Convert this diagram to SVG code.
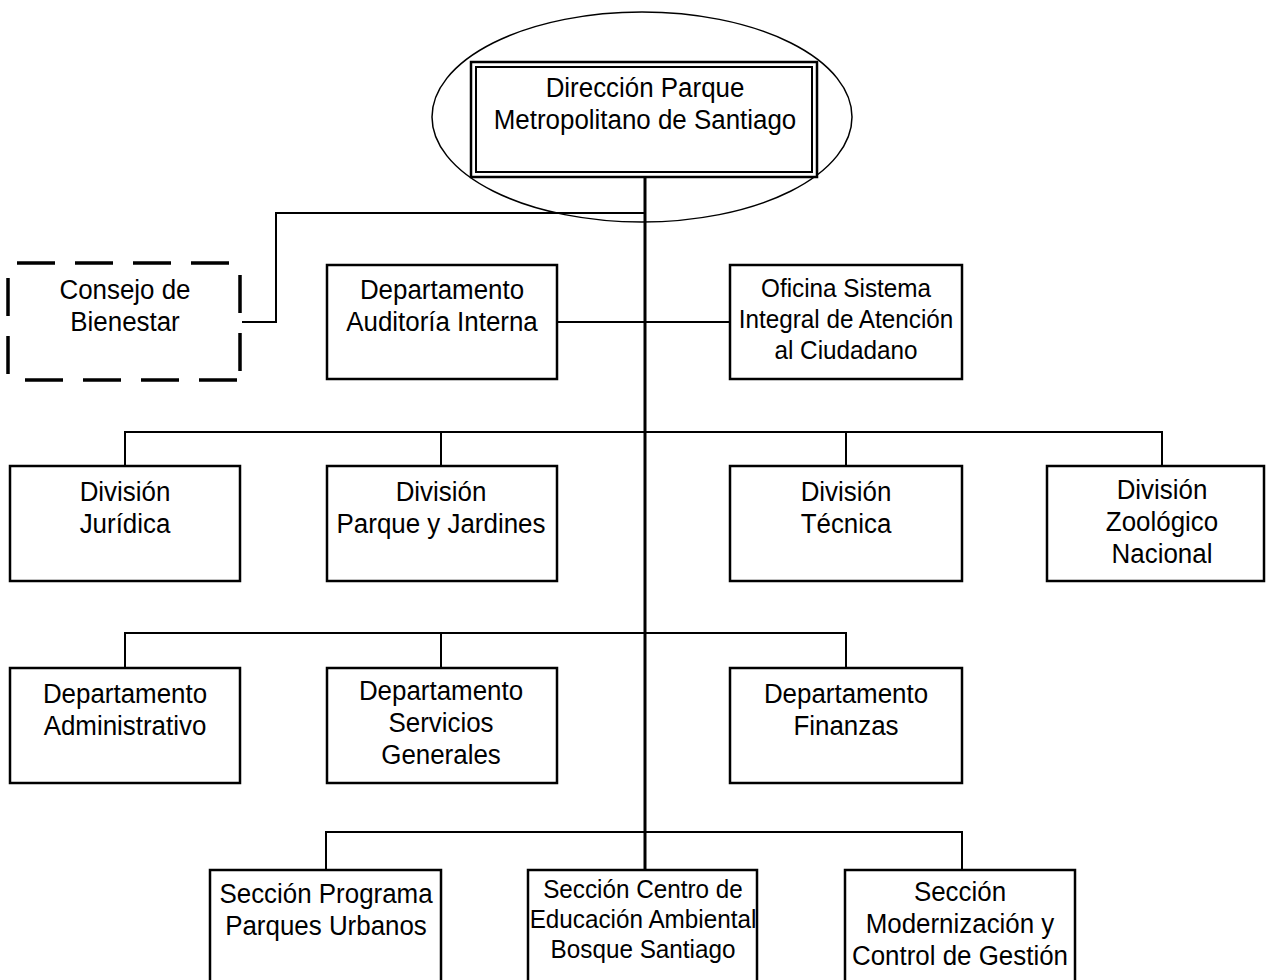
<svg xmlns="http://www.w3.org/2000/svg" width="1266" height="980" viewBox="0 0 1266 980">
<style>
.box{fill:#fff;stroke:#000;stroke-width:2.5}
.dash{fill:none;stroke:#000;stroke-width:3.5;stroke-dasharray:38 20}
.ln{fill:none;stroke:#000;stroke-width:2}
.main{fill:none;stroke:#000;stroke-width:3}
text{font-family:"Liberation Sans",Arial,sans-serif;font-size:27px;text-anchor:middle;fill:#000}
.sm{font-size:25.3px}
</style>
<rect width="1266" height="980" fill="#fff"/>
<g id="connectors">
<polyline class="ln" points="645,213 276,213 276,322 242,322"/>
<line class="ln" x1="557" y1="322" x2="730" y2="322"/>
<polyline class="ln" points="125,466 125,432 1162,432 1162,466"/>
<line class="ln" x1="441" y1="432" x2="441" y2="466"/>
<line class="ln" x1="846" y1="432" x2="846" y2="466"/>
<polyline class="ln" points="125,668 125,633 846,633 846,668"/>
<line class="ln" x1="441" y1="633" x2="441" y2="668"/>
<polyline class="ln" points="326,870 326,832 962,832 962,870"/>
<line class="main" x1="645" y1="177" x2="645" y2="870"/>
</g>
<g id="director">
<ellipse cx="642" cy="117" rx="210" ry="105" fill="none" stroke="#000" stroke-width="1.5"/>
<rect class="box" x="471" y="62" width="346" height="115"/>
<rect x="476" y="67" width="336" height="105" fill="none" stroke="#000" stroke-width="2"/>
<g transform="translate(645 0) scale(0.96 1)">
<text x="0" y="97">Dirección Parque</text>
<text x="0" y="129">Metropolitano de Santiago</text>
</g>
</g>
<g id="consejo">
<rect x="10" y="264" width="230" height="115" fill="#fff"/>
<line class="dash" x1="17" y1="263" x2="234" y2="263"/>
<line class="dash" x1="25" y1="380" x2="240" y2="380"/>
<line class="dash" x1="8" y1="278" x2="8" y2="376"/>
<line class="dash" x1="240" y1="275" x2="240" y2="376"/>
<g transform="translate(125 0) scale(0.96 1)">
<text x="0" y="299">Consejo de</text>
<text x="0" y="331">Bienestar</text>
</g>
</g>
<g id="auditoria">
<rect class="box" x="327" y="265" width="230" height="114"/>
<g transform="translate(442 0) scale(0.96 1)">
<text x="0" y="299">Departamento</text>
<text x="0" y="331">Auditoría Interna</text>
</g>
</g>
<g id="oficina">
<rect class="box" x="730" y="265" width="232" height="114"/>
<g transform="translate(846 0) scale(0.96 1)">
<text class="sm" x="0" y="297">Oficina  Sistema</text>
<text class="sm" x="0" y="328">Integral de Atención</text>
<text class="sm" x="0" y="359">al Ciudadano</text>
</g>
</g>
<g id="juridica">
<rect class="box" x="10" y="466" width="230" height="115"/>
<g transform="translate(125 0) scale(0.96 1)">
<text x="0" y="501">División</text>
<text x="0" y="533">Jurídica</text>
</g>
</g>
<g id="parques">
<rect class="box" x="327" y="466" width="230" height="115"/>
<g transform="translate(441 0) scale(0.96 1)">
<text x="0" y="501">División</text>
<text x="0" y="533">Parque y Jardines</text>
</g>
</g>
<g id="tecnica">
<rect class="box" x="730" y="466" width="232" height="115"/>
<g transform="translate(846 0) scale(0.96 1)">
<text x="0" y="501">División</text>
<text x="0" y="533">Técnica</text>
</g>
</g>
<g id="zoologico">
<rect class="box" x="1047" y="466" width="217" height="115"/>
<g transform="translate(1162 0) scale(0.96 1)">
<text x="0" y="499">División</text>
<text x="0" y="531">Zoológico</text>
<text x="0" y="563">Nacional</text>
</g>
</g>
<g id="administrativo">
<rect class="box" x="10" y="668" width="230" height="115"/>
<g transform="translate(125 0) scale(0.96 1)">
<text x="0" y="703">Departamento</text>
<text x="0" y="735">Administrativo</text>
</g>
</g>
<g id="servicios">
<rect class="box" x="327" y="668" width="230" height="115"/>
<g transform="translate(441 0) scale(0.96 1)">
<text x="0" y="700">Departamento</text>
<text x="0" y="732">Servicios</text>
<text x="0" y="764">Generales</text>
</g>
</g>
<g id="finanzas">
<rect class="box" x="730" y="668" width="232" height="115"/>
<g transform="translate(846 0) scale(0.96 1)">
<text x="0" y="703">Departamento</text>
<text x="0" y="735">Finanzas</text>
</g>
</g>
<g id="programa">
<rect class="box" x="210" y="870" width="231" height="125"/>
<g transform="translate(326 0) scale(0.96 1)">
<text x="0" y="903">Sección Programa</text>
<text x="0" y="935">Parques Urbanos</text>
</g>
</g>
<g id="centro">
<rect class="box" x="528" y="870" width="229" height="125"/>
<g transform="translate(643 0) scale(0.96 1)">
<text class="sm" x="0" y="898">Sección Centro de</text>
<text class="sm" x="0" y="928">Educación Ambiental</text>
<text class="sm" x="0" y="958">Bosque Santiago</text>
</g>
</g>
<g id="modernizacion">
<rect class="box" x="845" y="870" width="230" height="125"/>
<g transform="translate(960 0) scale(0.96 1)">
<text x="0" y="901">Sección</text>
<text x="0" y="933">Modernización y</text>
<text x="0" y="965">Control de Gestión</text>
</g>
</g>
</svg>
